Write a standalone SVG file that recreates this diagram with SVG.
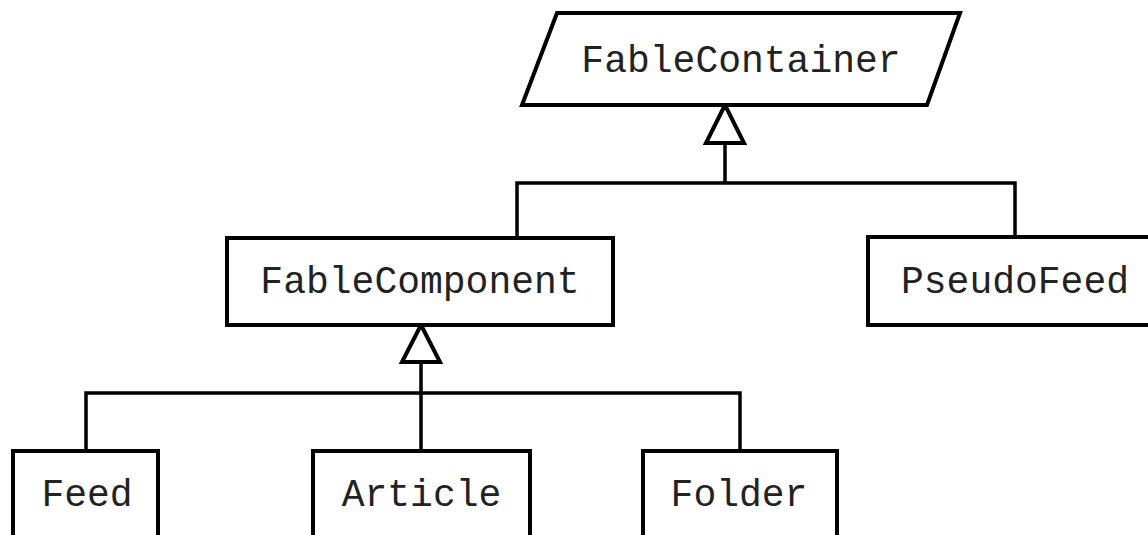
<svg xmlns="http://www.w3.org/2000/svg" width="1148" height="535" viewBox="0 0 1148 535">
<style>
.box{fill:#fff;stroke:#000;stroke-width:4}
.line{fill:none;stroke:#000;stroke-width:3.5}
.head{fill:#fff;stroke:#000;stroke-width:4;stroke-linejoin:miter}
text{font-family:"Liberation Mono","Courier New",monospace;font-size:38px;fill:#222;text-anchor:middle}
</style>
<rect width="1148" height="535" fill="#fff"/>
<g id="connectors">
<path class="line" d="M725 143 V183 M517 237 V183 H1015 V237"/>
<polygon class="head" points="725,105 706,143 744,143"/>
<path class="line" d="M421 362 V450 M86 450 V393 H740 V450"/>
<polygon class="head" points="421,325 402,362 440,362"/>
</g>
<g id="FableContainer">
<polygon class="box" points="557,13 960,13 927,105 522,105"/>
<text x="741" y="72">FableContainer</text>
</g>
<g id="FableComponent">
<rect class="box" x="227" y="238" width="386" height="87"/>
<text x="420" y="293">FableComponent</text>
</g>
<g id="PseudoFeed">
<rect class="box" x="868" y="237" width="294" height="88"/>
<text x="1015" y="293">PseudoFeed</text>
</g>
<g id="Feed">
<rect class="box" x="13" y="451" width="145" height="100"/>
<text x="87" y="506">Feed</text>
</g>
<g id="Article">
<rect class="box" x="313" y="451" width="217" height="100"/>
<text x="421.5" y="506">Article</text>
</g>
<g id="Folder">
<rect class="box" x="643" y="451" width="194" height="100"/>
<text x="739" y="506">Folder</text>
</g>
</svg>
